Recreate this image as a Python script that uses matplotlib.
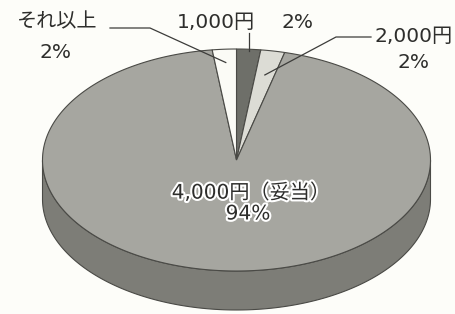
import matplotlib
matplotlib.use('Agg')
import matplotlib.pyplot as plt
import matplotlib.patheffects as pe
from matplotlib.patches import Polygon
import numpy as np

plt.rcParams['font.family'] = ['DejaVu Sans', 'Noto Sans CJK JP']

# data (clockwise from 12 o'clock)
labels = ['1,000円', '2,000円', '4,000円（妥当）', 'それ以上']
values = [2, 2, 94, 2]
top_colors = ['#6e6f69', '#dcdcd5', '#a6a6a0', '#fbfbf6']
side_colors = ['#555650', '#b0b0aa', '#7d7d77', '#d0d0ca']

# pie geometry in pixel space
cx, cy = 236.5, 160.0
rx, ry = 194.0, 111.0
depth = 39.0
edge = '#4a4a46'

def pt(theta, r=1.0):
    t = np.radians(theta)
    return cx + rx * r * np.cos(t), cy - ry * r * np.sin(t)

fig = plt.figure(figsize=(4.56, 3.14), dpi=100)
fig.patch.set_facecolor('#fdfdf9')
ax = fig.add_axes([0, 0, 1, 1])
ax.set_xlim(0, 456)
ax.set_ylim(314, 0)
ax.axis('off')

total = float(sum(values))
starts, ends = [], []
a = 90.0
for v in values:
    starts.append(a)
    a -= 360.0 * v / total
    ends.append(a)

# side wall (front half only)
for s, e, sc in zip(starts, ends, side_colors):
    th = np.linspace(s, e, 600)
    th = th[np.sin(np.radians(th)) <= 0]
    if len(th) < 2:
        continue
    xs, ys = pt(th)
    poly = np.concatenate([np.c_[xs, ys], np.c_[xs[::-1], ys[::-1] + depth]])
    ax.add_patch(Polygon(poly, closed=True, facecolor=sc, edgecolor=edge, lw=0.8, zorder=1))

# top faces
for s, e, tc in zip(starts, ends, top_colors):
    th = np.linspace(s, e, 400)
    xs, ys = pt(th)
    poly = np.concatenate([[[cx, cy]], np.c_[xs, ys]])
    ax.add_patch(Polygon(poly, closed=True, facecolor=tc, edgecolor=edge, lw=0.8, zorder=2))

mids = [(s + e) / 2 for s, e in zip(starts, ends)]
txt = '#2e2e2c'
fs = 14.5

# leader lines
lc = '#3c3c3a'
x0, y0 = pt(mids[3], 0.88)
ax.plot([110, 150, x0], [28, 28, y0], color=lc, lw=0.9, zorder=3)
x1, y1 = pt(mids[0], 1.0)
ax.plot([x1, x1], [33, y1 + 2], color=lc, lw=0.9, zorder=3)
x2, y2 = pt(mids[1], 0.78)
ax.plot([371, 336, x2], [37, 37, y2], color=lc, lw=0.9, zorder=3)

# labels
ax.text(57, 22, labels[3], ha='center', va='center', fontsize=fs, color=txt)
ax.text(56, 52, f'{values[3]}%', ha='center', va='center', fontsize=fs, color=txt)
ax.text(216, 22, labels[0], ha='center', va='center', fontsize=fs, color=txt)
ax.text(298, 22, f'{values[0]}%', ha='center', va='center', fontsize=fs, color=txt)
ax.text(414, 37, labels[1], ha='center', va='center', fontsize=fs, color=txt)
ax.text(414, 62, f'{values[1]}%', ha='center', va='center', fontsize=fs, color=txt)
halo = [pe.withStroke(linewidth=3, foreground='white')]
ax.text(251, 193, labels[2], ha='center', va='center', fontsize=fs, color=txt,
        path_effects=halo, zorder=4)
ax.text(248, 214, f'{values[2]}%', ha='center', va='center', fontsize=fs, color=txt,
        path_effects=halo, zorder=4)

fig.savefig('out.png', dpi=100, facecolor=fig.get_facecolor())
